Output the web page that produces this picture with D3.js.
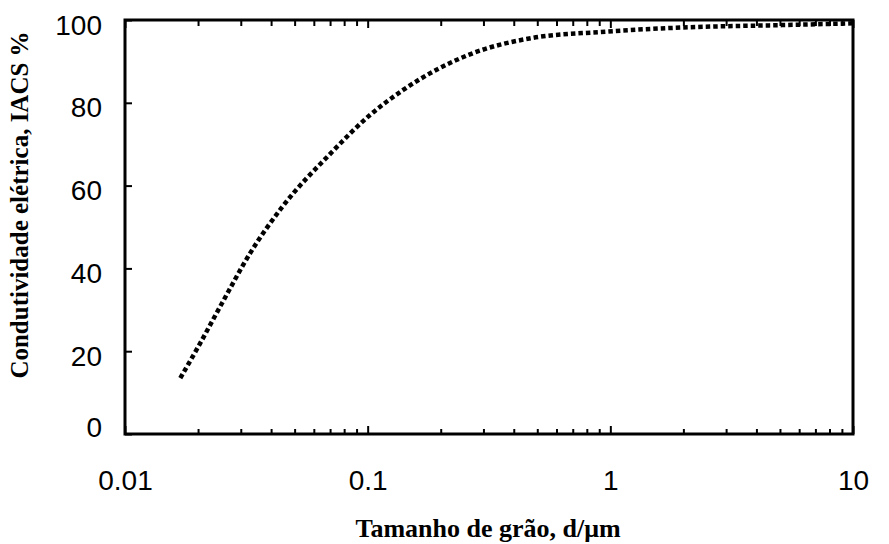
<!DOCTYPE html>
<html>
<head>
<meta charset="utf-8">
<script src="https://cdn.jsdelivr.net/npm/d3@7"></script>
<style>
	body { margin: 0; background: #fff; }
	svg { display: block; }
</style>
</head>
<body>
<div id="grafic"></div>
<script>
// tamany de gra (µm) i conductivitat (% IACS)
const gra = [0.0169, 0.02, 0.025, 0.0328, 0.0444, 0.0707, 0.102, 0.14, 0.272, 0.481, 0.91, 2, 5.4, 10];
const conductivitat = [13.5, 21, 31.4, 43.7, 54.8, 67.9, 77, 83.1, 92, 95.7, 97.1, 98.2, 98.8, 99.2];

const ticsX = [0.01, 0.1, 1, 10];
const etiquetesX = ['0.01', '0.1', '1', '10'];
const ticsY = [0, 20, 40, 60, 80, 100];

const titolX = 'Tamanho de grão, d/μm';
const titolY = 'Condutividade elétrica, IACS %';

const Amplada = 889, Alçada = 544;
const marge = {dalt: 20, dreta: 36, baix: 110, esquerra: 125};

const llenç = d3.select('#grafic')
	.append('svg')
		.attr('width', Amplada)
		.attr('height', Alçada);

llenç.append('rect')
	.attr('width', Amplada)
	.attr('height', Alçada)
	.attr('fill', '#fff');

const escX = d3.scaleLog()
	.domain([0.01, 10])
	.range([marge.esquerra, Amplada - marge.dreta]);
const escY = d3.scaleLinear()
	.domain([0, 100])
	.range([Alçada - marge.baix, marge.dalt]);

// tics menors: 2..9 de cada dècada
const menors = [];
for (let d = 0.01; d < 10; d *= 10) {
	for (let k = 2; k <= 9; k++) menors.push(+(k * d).toPrecision(3));
}

const lletraNum = '"Liberation Sans", Arial, sans-serif';
const lletraTit = '"Liberation Serif", "Times New Roman", serif';

function neteja(g) {
	g.select('.domain').remove();
	g.selectAll('line').attr('stroke', '#000').attr('stroke-width', 2);
}

// eix de baix
const baix = llenç.append('g')
	.attr('transform', `translate(0,${escY(0)})`)
	.call(d3.axisBottom(escX).tickValues(ticsX).tickSizeInner(-8).tickSizeOuter(0).tickPadding(36)
		.tickFormat((d, i) => etiquetesX[i]))
	.call(neteja);
baix.selectAll('text')
	.attr('font-family', lletraNum)
	.attr('font-size', 28)
	.attr('fill', '#000');

llenç.append('g')
	.attr('transform', `translate(0,${escY(0)})`)
	.call(d3.axisBottom(escX).tickValues(menors).tickSizeInner(-5).tickSizeOuter(0).tickFormat(''))
	.call(neteja);

// eix de dalt
llenç.append('g')
	.attr('transform', `translate(0,${escY(100)})`)
	.call(d3.axisTop(escX).tickValues(ticsX).tickSizeInner(-8).tickSizeOuter(0).tickFormat(''))
	.call(neteja);
llenç.append('g')
	.attr('transform', `translate(0,${escY(100)})`)
	.call(d3.axisTop(escX).tickValues(menors).tickSizeInner(-6).tickSizeOuter(0).tickFormat(''))
	.call(neteja);

// eix esquerre
const esq = llenç.append('g')
	.attr('transform', `translate(${escX(0.01)},0)`)
	.call(d3.axisLeft(escY).tickValues(ticsY).tickSizeInner(-7).tickSizeOuter(0).tickPadding(23))
	.call(neteja);
esq.selectAll('text')
	.attr('font-family', lletraNum)
	.attr('font-size', 28)
	.attr('fill', '#000')
	.attr('dy', d => d === 0 ? '0.1em' : '0.5em');

// marc
llenç.append('rect')
	.attr('x', escX(0.01))
	.attr('y', escY(100))
	.attr('width', escX(10) - escX(0.01))
	.attr('height', escY(0) - escY(100))
	.attr('fill', 'none')
	.attr('stroke', '#000')
	.attr('stroke-width', 3);

// corba de punts
const linia = d3.line()
	.x((d, i) => escX(gra[i]))
	.y(d => escY(d))
	.curve(d3.curveMonotoneX);

llenç.append('path')
	.datum(conductivitat)
	.attr('d', linia)
	.attr('fill', 'none')
	.attr('stroke', '#000')
	.attr('stroke-width', 4.5)
	.attr('stroke-dasharray', '4.5,3');

// títols
llenç.append('text')
	.attr('x', 488)
	.attr('y', 537)
	.attr('text-anchor', 'middle')
	.attr('font-family', lletraTit)
	.attr('font-weight', 'bold')
	.attr('font-size', 26)
	.text(titolX);

llenç.append('text')
	.attr('transform', `translate(28,205) rotate(-90)`)
	.attr('text-anchor', 'middle')
	.attr('font-family', lletraTit)
	.attr('font-weight', 'bold')
	.attr('font-size', 25)
	.text(titolY);
</script>
</body>
</html>
